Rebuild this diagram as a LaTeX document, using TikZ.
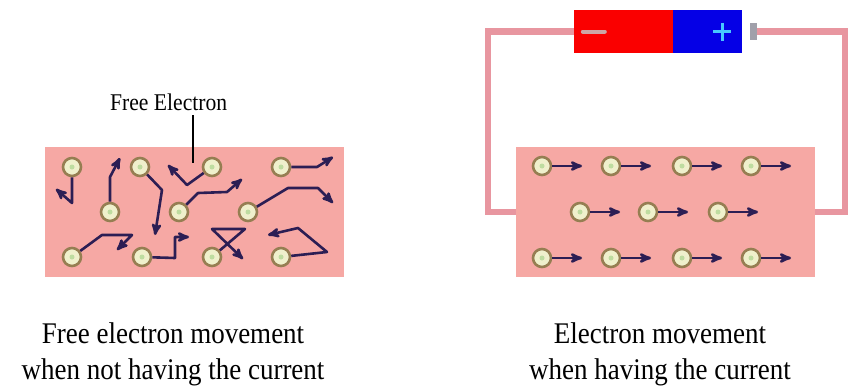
\documentclass[tikz,border=0pt]{standalone}
\usepackage{fontspec}
\setmainfont{Liberation Serif}
\usepackage{graphicx}
\usetikzlibrary{arrows}

\definecolor{metal}{RGB}{246,168,164}
\definecolor{wirepink}{RGB}{232,150,160}
\definecolor{drift}{RGB}{44,30,84}
\definecolor{shell}{RGB}{150,126,82}
\definecolor{core}{RGB}{239,240,204}
\definecolor{coredot}{RGB}{190,220,160}
\definecolor{batred}{RGB}{250,0,0}
\definecolor{batblue}{RGB}{5,0,230}
\definecolor{pluscyan}{RGB}{70,200,255}
\definecolor{minusgrey}{RGB}{205,165,165}
\definecolor{nubgrey}{RGB}{160,160,170}

\newcommand{\narrowtext}[1]{\scalebox{0.9}[1]{#1}}

\begin{document}
\begin{tikzpicture}[x=1pt,y=-1pt,>=stealth',line join=round]
          \tikzstyle{metalbox}=[fill=metal,inner sep=0pt,minimum width=299pt,minimum height=130pt]
          \tikzstyle{electron}=[circle,draw=shell,fill=core,line width=2.6pt,minimum size=18pt,inner sep=0pt,
                                path picture={\fill[coredot] (path picture bounding box.center) circle (2.5pt);}]
          \tikzstyle{flow}=[->,draw=drift,line width=2.6pt]
          \tikzstyle{wire}=[draw=wirepink,line width=6.5pt,line join=miter]
          \tikzstyle{cell}=[inner sep=0pt,minimum height=43pt]
          \tikzstyle{caption}=[font=\fontsize{30}{36}\selectfont,inner sep=0pt,anchor=base]
          \useasboundingbox (0,0) rectangle (854,388);

          % the two pieces of metal
          \node[metalbox] (metalA) at (194.5,212) {};
          \node[metalbox] (metalB) at (665.5,212) {};

          % no current: electrons wander about
          \foreach \x/\y [count=\i] in {72/167,140/167,212/167,281/167,110/212,179/212,
                                        248/212,72/257,142/257,212/257,281/257}
            \node[electron] (a\i) at (\x,\y) {};

          \draw[flow] (a1) -- ++(0,36) -- ++(-16,-14);
          \draw[flow] (a5) -- ++(0,-35) -- ++(10,-19);
          \draw[flow] (a2) -- ++(22,23) -- ++(-7,45);
          \draw[flow] (a3) -- ++(-25,18) -- ++(-19,-20);
          \draw[flow] (a6) -- ++(19,-19) -- ++(29,-1) -- ++(15,-13);
          \draw[flow] (a4) -- ++(36,0) -- ++(16,-10);
          \draw[flow] (a7) -- ++(40,-24) -- ++(30,0) -- ++(15,15);
          \draw[flow] (a8) -- ++(30,-22) -- ++(30,0) -- ++(-15,15);
          \draw[flow] (a9) -- ++(33,1) -- ++(0,-21) -- ++(14,0);
          \draw[flow] (a10) -- ++(33,-28) -- ++(-33,0) -- ++(31,30);
          \draw[flow] (a11) -- ++(46,-5) -- ++(-29,-24) -- ++(-30,7);

          \node[font=\fontsize{24}{28}\selectfont,inner sep=0pt,anchor=base west] (fe) at (110,110)
               {\narrowtext{Free Electron}};
          \coordinate (pin) at (193,163);
          \draw[line width=2pt] ([yshift=-5pt]pin |- fe.south) -- (pin);

          % with current: electrons drift the same way
          \foreach \x/\y [count=\i] in {542/166,611/166,682/166,751/166,580/212,648/212,
                                        718/212,542/258,611/258,682/258,751/258}
            {\node[electron] (b\i) at (\x,\y) {};
             \draw[flow] (b\i) -- ++(40,0);}

          % battery and wires
          \node[cell,fill=batred,minimum width=99pt] (neg) at (623.5,31.5) {};
          \node[cell,fill=batblue,minimum width=69pt] (pos) [right of=neg,node distance=84pt] {};
          \node[fill=nubgrey,inner sep=0pt,minimum width=7pt,minimum height=17pt] (nub) [right of=pos,node distance=46pt] {};
          \draw[draw=minusgrey,line width=4pt,line cap=round] ([xshift=9pt]neg.west) -- ++(22,0);
          \draw[draw=pluscyan,line width=3pt] ([xshift=-20pt]pos.east) ++(-9,0) -- ++(18,0)
                                              ([xshift=-20pt]pos.east) ++(0,-9) -- ++(0,18);
          \draw[wire] (neg.west) -- ++(-86,0) |- (metalB.west);
          \draw[wire] (nub.east) -- ++(88,0) |- (metalB.east);

          \node[caption] (capA1) at (173,343) {\narrowtext{Free electron movement}};
          \node[caption] (capA2) at (173,379) {\narrowtext{when not having the current}};
          \node[caption] (capB1) at (660,343) {\narrowtext{Electron movement}};
          \node[caption] (capB2) at (660,379) {\narrowtext{when having the current}};
        \end{tikzpicture}
\end{document}
